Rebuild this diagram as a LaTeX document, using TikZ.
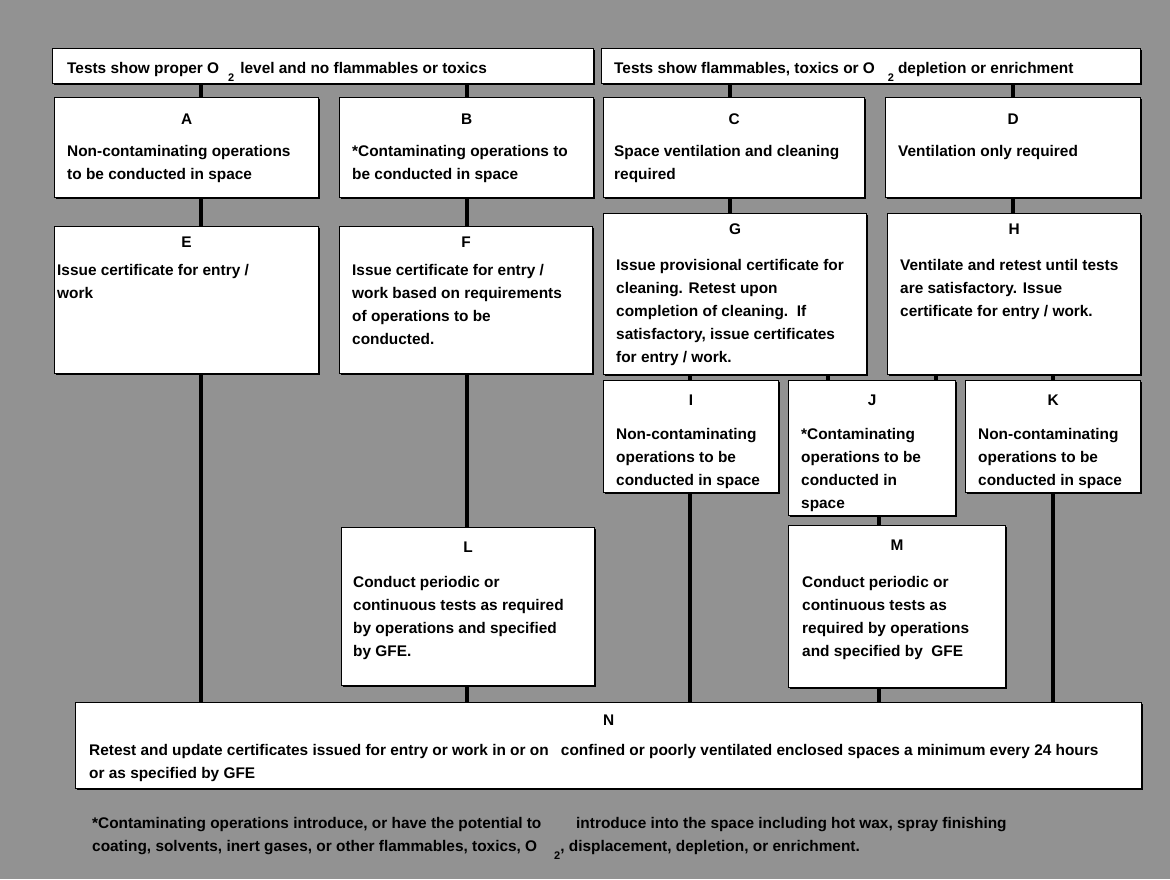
\documentclass[tikz,border=0pt]{standalone}
\usepackage{fontspec}
\setmainfont{Liberation Sans}
\usetikzlibrary{calc,shadows}
\definecolor{bgray}{RGB}{146,146,146}
\newcommand{\mlines}[1]{\vtop{\halign{##\hfil\cr#1\crcr}}}
\tikzset{
  box/.style={draw=black, fill=white, line width=1.2pt, inner sep=0pt, anchor=north west,
    drop shadow={shadow xshift=1.6pt, shadow yshift=-1.6pt, fill=black, opacity=1}},
  lett/.style={anchor=base, inner sep=0pt, font=\fontsize{15.4}{23.2}\selectfont\bfseries},
  body/.style={anchor=base west, inner sep=0pt, font=\fontsize{15.4}{23.2}\selectfont\bfseries},
  plain/.style={anchor=base west, inner sep=0pt, font=\fontsize{15.4}{23.2}\selectfont\bfseries},
  conn/.style={draw=black, line width=4pt}
}
\newcommand{\subtwo}{\raisebox{-8pt}{\fontsize{11}{11}\selectfont 2}}
\begin{document}
\begin{tikzpicture}[x=1pt,y=-1pt]
\useasboundingbox (0,0) rectangle (1170,879);
\fill[bgray] (0,0) rectangle (1170,879);

% headers
\node[box, minimum width=541pt, minimum height=35pt] (HL) at (52,48) {};
\node[box, minimum width=539pt, minimum height=35pt] (HR) at (601,48) {};
\node[plain] (HLt) at (67,73) {Tests show proper O\hspace{9pt}\subtwo\hspace{6pt}level and no flammables or toxics};
\node[plain] (HRt) at (614,73) {Tests show flammables, toxics or O\hspace{13pt}\subtwo\hspace{4pt}depletion or enrichment};

% row 1
\node[box, minimum width=264pt, minimum height=100pt] (A) at (54,97) {};
\node[box, minimum width=254pt, minimum height=100pt] (B) at (339,97) {};
\node[box, minimum width=261pt, minimum height=100pt] (C) at (603,97) {};
\node[box, minimum width=255pt, minimum height=100pt] (D) at (885,97) {};
\node[lett] (Al) at ($(A.north)+(0,27)$) {A};
\node[lett] (Bl) at ($(B.north)+(0,27)$) {B};
\node[lett] (Cl) at ($(C.north)+(0,27)$) {C};
\node[lett] (Dl) at ($(D.north)+(0,27)$) {D};
\node[body] (At) at ($(A.north west)+(13,59)$) {\mlines{Non-contaminating operations\cr to be conducted in space}};
\node[body] (Bt) at ($(B.north west)+(13,59)$) {\mlines{*Contaminating operations to\cr be conducted in space}};
\node[body] (Ct) at ($(C.north west)+(11,59)$) {\mlines{Space ventilation and cleaning\cr required}};
\node[body] (Dt) at ($(D.north west)+(13,59)$) {\mlines{Ventilation only required}};

% row 2
\node[box, minimum width=264pt, minimum height=147pt] (E) at (54,226) {};
\node[box, minimum width=253pt, minimum height=147pt] (F) at (339,226) {};
\node[box, minimum width=263pt, minimum height=161pt] (G) at (603,213) {};
\node[box, minimum width=253pt, minimum height=161pt] (H) at (887,213) {};
\node[lett] (El) at ($(E.north)+(0,21)$) {E};
\node[lett] (Fl) at ($(F.north)+(0,21)$) {F};
\node[lett] (Gl) at ($(G.north)+(0,21)$) {G};
\node[lett] (Hl) at ($(H.north)+(0,21)$) {H};
\node[body] (Et) at ($(E.north west)+(3,49)$) {\mlines{Issue certificate for entry /\cr work}};
\node[body] (Ft) at ($(F.north west)+(13,49)$) {\mlines{Issue certificate for entry /\cr work based on requirements\cr of operations to be\cr conducted.}};
\node[body] (Gt) at ($(G.north west)+(13,57)$) {\mlines{Issue provisional certificate for\cr cleaning. Retest upon\cr completion of cleaning.\ \ If\cr satisfactory, issue certificates\cr for entry / work.}};
\node[body] (Ht) at ($(H.north west)+(13,57)$) {\mlines{Ventilate and retest until tests\cr are satisfactory. Issue\cr certificate for entry / work.}};

% row 3
\node[box, minimum width=175pt, minimum height=112pt] (I) at (603,380) {};
\node[box, minimum width=167pt, minimum height=135pt] (J) at (788,380) {};
\node[box, minimum width=175pt, minimum height=112pt] (K) at (965,380) {};
\node[lett] (Il) at ($(I.north)+(0,25)$) {I};
\node[lett] (Jl) at ($(J.north)+(0,25)$) {J};
\node[lett] (Kl) at ($(K.north)+(0,25)$) {K};
\node[body] (It) at ($(I.north west)+(13,59)$) {\mlines{Non-contaminating\cr operations to be\cr conducted in space}};
\node[body] (Jt) at ($(J.north west)+(13,59)$) {\mlines{*Contaminating\cr operations to be\cr conducted in\cr space}};
\node[body] (Kt) at ($(K.north west)+(13,59)$) {\mlines{Non-contaminating\cr operations to be\cr conducted in space}};

% row 4
\node[box, minimum width=253pt, minimum height=158pt] (L) at (341,527) {};
\node[box, minimum width=217pt, minimum height=162pt] (M) at (788,525) {};
\node[lett] (Ll) at ($(L.north)+(0,25)$) {L};
\node[lett] (Ml) at ($(M.north)+(0,25)$) {M};
\node[body] (Lt) at ($(L.north west)+(12,60)$) {\mlines{Conduct periodic or\cr continuous tests as required\cr by operations and specified\cr by GFE.}};
\node[body] (Mt) at ($(M.north west)+(14,62)$) {\mlines{Conduct periodic or\cr continuous tests as\cr required by operations\cr and specified by\ \ GFE}};

% N
\node[box, minimum width=1066pt, minimum height=86pt] (N) at (75,702) {};
\node[lett] (Nl) at ($(N.north)+(0,23)$) {N};
\node[body] (Nt) at ($(N.north west)+(14,53)$) {\mlines{Retest and update certificates issued for entry or work in or on\hspace{8pt} confined or poorly ventilated enclosed spaces a minimum every 24 hours\cr or as specified by GFE}};

% footnote
\node[plain] (f1a) at (92,828) {*Contaminating operations introduce, or have the potential to};
\node[plain] (f1b) at (576,828) {introduce into the space including hot wax, spray finishing};
\node[plain] (f2a) at (92,851) {coating, solvents, inert gases, or other flammables, toxics, O};
\node[plain] (f2b) at (554,851) {\subtwo, displacement, depletion, or enrichment.};

% connector x positions
\coordinate (xa) at (201,0);
\coordinate (xb) at (467,0);
\coordinate (xc) at (730,0);
\coordinate (xd) at (1013,0);
\coordinate (xi) at (690,0);
\coordinate (xj) at (828,0);
\coordinate (xh) at (936,0);
\coordinate (xm) at (879,0);
\coordinate (xk) at (1053,0);

\draw[conn] (xa |- HL.south) -- (xa |- A.north);
\draw[conn] (xa |- A.south) -- (xa |- E.north);
\draw[conn] (xa |- E.south) -- (xa |- N.north);
\draw[conn] (xb |- HL.south) -- (xb |- B.north);
\draw[conn] (xb |- B.south) -- (xb |- F.north);
\draw[conn] (xb |- F.south) -- (xb |- L.north);
\draw[conn] (xb |- L.south) -- (xb |- N.north);
\draw[conn] (xc |- HR.south) -- (xc |- C.north);
\draw[conn] (xc |- C.south) -- (xc |- G.north);
\draw[conn] (xd |- HR.south) -- (xd |- D.north);
\draw[conn] (xd |- D.south) -- (xd |- H.north);
\draw[conn] (xi |- G.south) -- (xi |- I.north);
\draw[conn] (xj |- G.south) -- (xj |- J.north);
\draw[conn] (xh |- H.south) -- (xh |- J.north);
\draw[conn] (xk |- H.south) -- (xk |- K.north);
\draw[conn] (xi |- I.south) -- (xi |- N.north);
\draw[conn] (xm |- J.south) -- (xm |- M.north);
\draw[conn] (xm |- M.south) -- (xm |- N.north);
\draw[conn] (xk |- K.south) -- (xk |- N.north);
\end{tikzpicture}
\end{document}
